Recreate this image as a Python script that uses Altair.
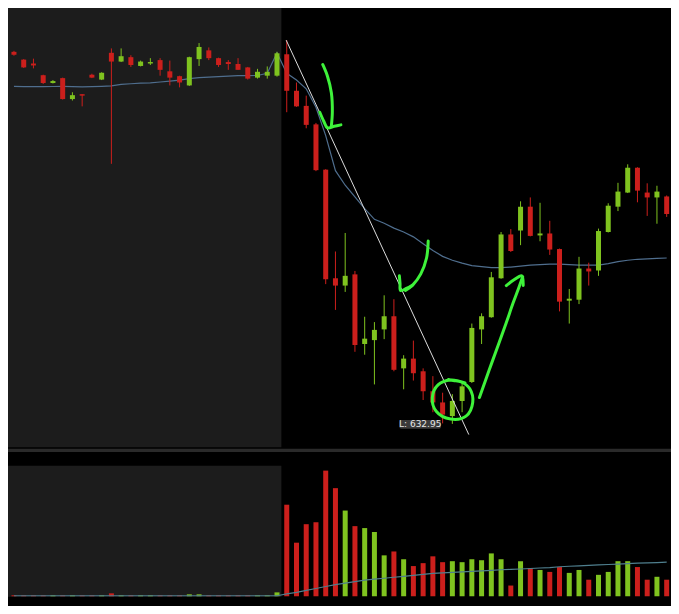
import altair as alt
import pandas as pd

# ---------------- data ----------------
opens = [671.15, 670.35, 669.95, 668.75, 667.95, 668.45, 666.3, 666.8, 668.8, 668.3,
         671.05, 670.15, 670.6, 669.7, 669.95, 670.3, 669.15, 668.65, 667.7, 670.4,
         671.3, 670.5, 670.1, 669.9, 669.55, 668.5, 668.7, 668.7, 670.9, 667.15,
         665.6, 663.7, 659.05, 647.9, 647.15, 648.3, 641.15, 641.55, 642.65, 644.0,
         638.65, 639.65, 638.35, 636.3, 635.15, 633.75, 635.3, 637.25, 642.65, 643.9,
         647.9, 652.4, 652.8, 655.25, 652.3, 652.5, 650.9, 645.6, 645.7, 648.9,
         648.7, 652.65, 655.25, 656.7, 659.25, 656.7, 656.2, 656.3]
closes = [670.85, 669.55, 669.75, 667.95, 668.15, 666.3, 666.7, 666.65, 668.5, 669.0,
          670.15, 670.7, 669.8, 670.15, 670.1, 669.3, 668.5, 668.0, 670.6, 671.65,
          670.5, 669.8, 669.9, 669.3, 668.4, 669.1, 669.1, 671.0, 667.15, 665.55,
          663.65, 659.0, 647.8, 647.15, 648.15, 641.05, 641.7, 642.6, 644.0, 638.5,
          639.65, 638.15, 636.3, 635.15, 633.9, 635.3, 636.8, 642.8, 644.0, 648.0,
          652.4, 650.7, 655.25, 652.25, 652.5, 650.85, 645.5, 645.8, 648.9, 648.6,
          652.75, 655.35, 656.8, 659.25, 656.9, 656.2, 656.8, 654.5]
highs = [671.25, 670.4, 670.45, 668.8, 668.25, 668.5, 667.0, 666.8, 668.9, 669.05,
         671.5, 671.5, 670.8, 670.25, 670.5, 670.5, 670.25, 668.7, 670.65, 672.05,
         671.6, 670.55, 670.3, 670.5, 669.6, 669.4, 669.65, 671.15, 672.35, 668.0,
         666.65, 663.85, 659.1, 650.65, 652.55, 648.65, 643.95, 643.4, 646.15, 645.75,
         640.0, 641.5, 638.65, 637.85, 636.15, 636.0, 637.3, 643.25, 644.3, 648.55,
         652.65, 652.95, 655.8, 656.2, 655.65, 653.8, 650.95, 646.8, 650.1, 649.5,
         653.0, 655.6, 657.7, 659.6, 659.3, 657.65, 657.4, 656.4]
lows = [670.75, 669.5, 669.45, 667.85, 667.9, 666.25, 666.15, 665.55, 668.45, 668.25,
        659.65, 670.1, 669.6, 669.65, 669.8, 668.7, 667.7, 667.5, 667.65, 669.7,
        670.3, 669.6, 669.3, 669.3, 668.3, 668.4, 668.4, 668.6, 664.95, 665.5,
        663.3, 658.9, 647.3, 644.65, 646.5, 640.35, 640.05, 637.0, 641.65, 638.35,
        636.5, 637.4, 635.4, 634.15, 633.0, 632.95, 634.15, 637.15, 641.15, 643.85,
        647.85, 650.6, 651.3, 652.2, 651.7, 650.3, 644.5, 643.25, 645.25, 647.15,
        648.15, 652.6, 654.8, 656.65, 655.7, 654.3, 653.5, 654.2]
volumes = [1, 1, 1, 1, 1, 1, 1, 1, 1, 1, 3, 1, 1, 1, 1, 1, 1, 1, 2, 2,
           1, 1, 1, 1, 1, 1, 1, 4, 94, 55, 74, 76, 129, 111, 88, 72, 70, 66, 42, 46,
           38, 31, 34, 41, 35, 36, 35, 38, 37, 44, 38, 11, 36, 29, 27, 25, 30, 24, 27, 17,
           22, 25, 36, 36, 30, 17, 20, 17]
price_ma = [667.6, 667.58, 667.57, 667.57, 667.59, 667.6, 667.58, 667.55, 667.57, 667.6,
            667.65, 667.8, 667.87, 667.93, 667.97, 668.05, 668.15, 668.25, 668.4, 668.5,
            668.55, 668.6, 668.65, 668.7, 668.71, 668.72, 668.95, 671.05, 668.95, 668.25,
            667.35, 665.45, 662.55, 658.95, 657.45, 656.25, 655.05, 653.95, 653.55, 653.05,
            652.65, 652.15, 651.45, 650.75, 650.15, 649.75, 649.45, 649.2, 649.1, 649.0,
            649.0, 649.05, 649.15, 649.25, 649.3, 649.35, 649.35, 649.3, 649.25, 649.25,
            649.25, 649.4, 649.6, 649.75, 649.85, 649.9, 649.95, 649.98]
volume_ma = [0.5] * 28 + [2.5, 4, 6, 8, 10, 12, 13.5, 15, 16.5, 17.5, 18.5, 19.5, 20.5, 21.5,
                          22.5, 23.5, 24, 24.5, 25, 25.5, 26, 26.5, 27.2, 27.6, 28, 28.5, 29,
                          29.5, 30.3, 30.8, 31.3, 31.8, 32.2, 32.6, 33, 33.5, 34, 34.3, 34.6, 35]

# trend line drawn on the chart (bar index, price)
trend_i = [27.94, 46.69]
trend_p = [672.35, 631.85]

# hand-drawn green marker strokes (bar index, price)
ann_stroke = ["a1"] * 5 + ["a1h"] * 5 + ["a2"] * 5 + ["a2h"] * 5 + ["c"] * 12 + ["a3"] * 7 + ["a3h"] * 4
ann_i = [31.69, 32.18, 32.58, 32.68, 32.58,
         31.39, 31.79, 32.18, 32.87, 33.56,
         42.52, 42.35, 41.76, 40.97, 40.18,
         39.56, 39.63, 39.68, 40.28, 40.87,
         46.30, 44.82, 43.53, 42.94, 43.34, 44.82, 46.40, 47.09, 46.79, 45.91, 45.1, 44.6,
         47.78, 48.77, 49.75, 50.54, 51.23, 51.83, 52.22,
         50.54, 51.33, 52.12, 52.27]
ann_p = [669.85, 668.65, 666.95, 664.95, 663.55,
         664.95, 664.05, 663.35, 663.5, 663.65,
         651.72, 649.98, 648.35, 647.25, 646.65,
         648.15, 647.35, 646.65, 646.85, 647.15,
         637.15, 637.45, 636.95, 635.65, 634.25, 633.45, 633.75, 635.15, 636.55, 637.25, 637.4, 637.5,
         635.65, 638.45, 641.15, 643.35, 645.35, 646.95, 648.05,
         647.15, 647.75, 648.15, 647.15]

low_label = "L: 632.95"

# ---------------- tables ----------------
n = len(opens)
df = pd.DataFrame({"i": list(range(n)), "open": opens, "close": closes,
                   "high": highs, "low": lows, "vol": volumes,
                   "ma": price_ma, "vma": volume_ma})
df["zero"] = 0
trend = pd.DataFrame({"i": trend_i, "p": trend_p})
ann = pd.DataFrame({"s": ann_stroke, "i": ann_i, "p": ann_p})
ann["o"] = range(len(ann))

RED = "#cc1f1c"
GREEN = "#7fc31f"
BG_GRAY = "#1c1c1c"

W, H = 663, 598
xs = alt.Scale(domain=[-0.099, 66.93], nice=False, zero=False)
ps = alt.Scale(domain=[614.25, 675.65], nice=False, zero=False)
vs = alt.Scale(domain=[-10, 604], nice=False, zero=False)

X = alt.X("i:Q", scale=xs, axis=None)
up = alt.condition("datum.close >= datum.open", alt.value(GREEN), alt.value(RED))

# background panels (session split at bar 27.5)
bg = pd.DataFrame({"x": [-1, -1, -1], "x2": [27.45, 68, 27.45],
                   "y": [630.55, 630.4, 628.65], "y2": [676, 630.05, 615.2],
                   "c": [BG_GRAY, "#2a2a2a", BG_GRAY]})
bg_layer = alt.Chart(bg).mark_rect(clip=True).encode(
    x=alt.X("x:Q", scale=xs, axis=None), x2="x2:Q",
    y=alt.Y("y:Q", scale=ps, axis=None), y2="y2:Q",
    color=alt.Color("c:N", scale=None))

base = alt.Chart(df)
wicks = base.mark_rule(strokeWidth=1, clip=True).encode(
    x=X, y=alt.Y("low:Q", scale=ps, axis=None), y2="high:Q", color=up)
bodies = base.mark_bar(size=5, clip=True).encode(
    x=X, y=alt.Y("open:Q", scale=ps, axis=None), y2="close:Q", color=up)
ma_line = base.mark_line(color="#4f6e8e", strokeWidth=1.2, clip=True).encode(
    x=X, y=alt.Y("ma:Q", scale=ps, axis=None))
vol_bars = base.mark_bar(size=5, clip=True).encode(
    x=X, y=alt.Y("vol:Q", scale=vs, axis=None), y2="zero:Q", color=up)
vma_line = base.mark_line(color="#4f7f8e", strokeWidth=1.2, clip=True).encode(
    x=X, y=alt.Y("vma:Q", scale=vs, axis=None))

trend_line = alt.Chart(trend).mark_line(color="#dcdcdc", strokeWidth=1, clip=True).encode(
    x=alt.X("i:Q", scale=xs, axis=None), y=alt.Y("p:Q", scale=ps, axis=None))

ann_lines = alt.Chart(ann).mark_line(color="#3ef23a", strokeWidth=3, strokeCap="round",
                                     strokeJoin="round", interpolate="catmull-rom", clip=True).encode(
    x=alt.X("i:Q", scale=xs, axis=None), y=alt.Y("p:Q", scale=ps, axis=None),
    detail="s:N", order="o:Q")

lab = pd.DataFrame({"x": [39.56], "x2": [43.83], "y": [632.45], "y2": [633.35],
                    "tx": [41.7], "ty": [632.9], "t": [low_label]})
lab_box = alt.Chart(lab).mark_rect(color="#3a3a3a", cornerRadius=2).encode(
    x=alt.X("x:Q", scale=xs, axis=None), x2="x2:Q",
    y=alt.Y("y:Q", scale=ps, axis=None), y2="y2:Q")
lab_text = alt.Chart(lab).mark_text(color="#e6e6e6", fontSize=9, font="DejaVu Sans").encode(
    x=alt.X("tx:Q", scale=xs, axis=None), y=alt.Y("ty:Q", scale=ps, axis=None), text="t:N")

chart = alt.layer(bg_layer, ma_line, wicks, bodies, vol_bars, vma_line, trend_line,
                  lab_box, lab_text, ann_lines).resolve_scale(y="independent").properties(
    width=W, height=H, padding=0, autosize=alt.AutoSizeParams(type="none"),
    background="#000000"
).configure_view(stroke=None)

chart.save("out.html", embed_options={"renderer": "svg", "actions": False})
